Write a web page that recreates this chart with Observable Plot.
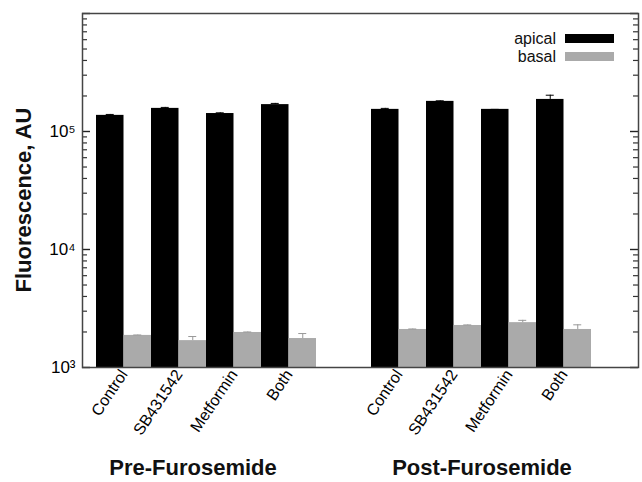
<!DOCTYPE html>
<html><head><meta charset="utf-8">
<script src="https://cdn.jsdelivr.net/npm/d3@7"></script>
<script src="https://cdn.jsdelivr.net/npm/@observablehq/plot@0.6"></script>
<style>
body{margin:0;background:#fff;font-family:"Liberation Sans",Arial,Helvetica,sans-serif;}
#wrap{position:relative;width:642px;height:482px;overflow:hidden;}
.lab{position:absolute;white-space:nowrap;color:#111;}
.leg{font-size:16px;text-align:right;width:80px;line-height:18px;}
.sw{position:absolute;width:49px;height:9px;}
.grp{font-size:22px;font-weight:bold;line-height:26px;transform:translateX(-50%);}
.ylab{font-size:22px;font-weight:bold;line-height:26px;transform:translate(-50%,-50%) rotate(-90deg);}
</style></head><body><div id="wrap"></div>
<script>
const conditions = ["Pre-Furosemide", "Post-Furosemide"];
const treatments = ["Control", "SB431542", "Metformin", "Both"];
const locations = ["apical", "basal"];
const colors = ["#000000", "#aaaaaa"];
// order: Pre (Control, SB431542, Metformin, Both), Post (Control, SB431542, Metformin, Both)
const apicalValues = [137000, 157000, 142000, 169000, 154000, 180000, 154000, 187000];
const apicalErrors = [2500, 3000, 2000, 4000, 3000, 2000, 0, 16000];
const basalValues = [1870, 1690, 1980, 1760, 2100, 2270, 2400, 2100];
const basalErrors = [15, 140, 20, 180, 20, 25, 110, 200];
const yMajorTicks = [1e3, 1e4, 1e5, 1e6];
const yLabelTicks = [1e3, 1e4, 1e5];
const yLabel = "Fluorescence, AU";

const keys = [];
conditions.forEach(c => treatments.forEach(t => keys.push(c + "|" + t)));
const xDomain = [...keys.slice(0, 4), "gap", ...keys.slice(4)];

const rows = [];
keys.forEach((k, i) => {
  rows.push({key: k, location: "apical", value: apicalValues[i], err: apicalErrors[i]});
  rows.push({key: k, location: "basal", value: basalValues[i], err: basalErrors[i]});
});
const ap = rows.filter(d => d.location === "apical");
const ba = rows.filter(d => d.location === "basal");

const minorTicks = [];
for (let e = 3; e < 6; e++) for (let m = 2; m <= 9; m++) minorTicks.push(m * Math.pow(10, e));

const W = 642, H = 482, mL = 82, mR = 4, mT = 13, mB = 115;
const plotW = W - mL - mR;
const po = 0.5545;
const step = plotW / (xDomain.length + 2 * po);
const half = step / 2, q = step / 4, cap = 4;
const majLen = 8, minLen = 5;

const sup = {"0":"⁰","1":"¹","2":"²","3":"³","4":"⁴","5":"⁵","6":"⁶","7":"⁷","8":"⁸","9":"⁹"};
const fmtPow = v => "10" + String(Math.round(Math.log10(v))).split("").map(c => sup[c]).join("");

const chart = Plot.plot({
  width: W, height: H,
  marginLeft: mL, marginRight: mR, marginTop: mT, marginBottom: mB,
  style: {fontFamily: "'Liberation Sans', Arial, sans-serif"},
  x: {type: "band", domain: xDomain, paddingInner: 0, paddingOuter: po, align: 0.23},
  y: {type: "log", domain: [yMajorTicks[0], yMajorTicks[3]]},
  marks: [
    Plot.barY(ap, {x: "key", y1: yMajorTicks[0], y2: "value", fill: colors[0], insetRight: half}),
    Plot.barY(ba, {x: "key", y1: yMajorTicks[0], y2: "value", fill: colors[1], insetLeft: half}),
    Plot.ruleX(ap, {x: "key", y1: "value", y2: d => d.value + d.err, dx: -q, stroke: colors[0]}),
    Plot.ruleX(ba, {x: "key", y1: "value", y2: d => d.value + d.err, dx: q, stroke: "#999"}),
    Plot.tickY(ap, {x: "key", y: d => d.value + d.err, insetLeft: q - cap, insetRight: step - q - cap, stroke: colors[0]}),
    Plot.tickY(ba, {x: "key", y: d => d.value + d.err, insetLeft: step - q - cap, insetRight: q - cap, stroke: "#999"}),
    // inward ticks on the left and right edges of the frame
    Plot.tickY(yMajorTicks, {stroke: "#222", strokeWidth: 1.4, insetRight: plotW - majLen}),
    Plot.tickY(yMajorTicks, {stroke: "#222", strokeWidth: 1.4, insetLeft: plotW - majLen}),
    Plot.tickY(minorTicks, {stroke: "#333", strokeWidth: 1.2, insetRight: plotW - minLen}),
    Plot.tickY(minorTicks, {stroke: "#333", strokeWidth: 1.2, insetLeft: plotW - minLen}),
    Plot.axisX({tickRotate: -56, tickSize: 0, tickPadding: 4, fontSize: 16, label: null,
      tickFormat: k => k === "gap" ? "" : k.split("|")[1]}),
    Plot.axisY({ticks: yLabelTicks, tickSize: 0, tickPadding: 7, fontSize: 17, label: null, tickFormat: fmtPow}),
    Plot.frame({stroke: "#444", strokeWidth: 1.5})
  ]
});

const wrap = document.getElementById("wrap");
wrap.appendChild(chart);

function addDiv(cls, html, css) {
  const d = document.createElement("div");
  d.className = cls; d.textContent = html;
  Object.assign(d.style, css);
  wrap.appendChild(d);
  return d;
}
addDiv("lab ylab", yLabel, {left: "24px", top: "200px"});
locations.forEach((loc, i) => {
  const cy = 38.5 + i * 18;
  addDiv("lab leg", loc, {left: (556 - 80) + "px", top: (cy - 9) + "px"});
  addDiv("sw", "", {left: "565px", top: (cy - 4.5) + "px", background: colors[i]});
});
const groupCenters = [193, 482];
conditions.forEach((c, i) => {
  addDiv("lab grp", c, {left: groupCenters[i] + "px", top: "455px"});
});
</script>
</body></html>
